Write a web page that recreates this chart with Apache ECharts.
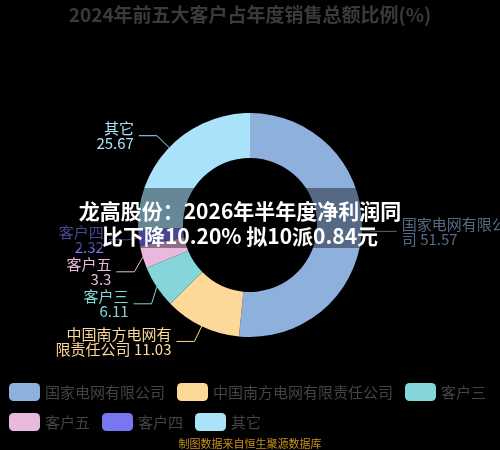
<!DOCTYPE html>
<html>
<head>
<meta charset="utf-8">
<script src="https://cdn.jsdelivr.net/npm/echarts@6/dist/echarts.min.js"></script>
<style>
  html, body { margin: 0; padding: 0; background: #000; }
  #main { width: 500px; height: 450px; }
</style>
</head>
<body>
<div id="main"></div>
<script>
// 数据
const titleText = '2024年前五大客户占年度销售总额比例(%)';
const customerNames = ['国家电网有限公司', '中国南方电网有限责任公司', '客户三', '客户五', '客户四', '其它'];
const customerShares = [51.57, 11.03, 6.11, 3.3, 2.32, 25.67];
const newsText = '龙高股份：2026年半年度净利润同\n比下降10.20% 拟10派0.84元';
const sourceText = '制图数据来自恒生聚源数据库';

const sliceColors = ['#8eb0dc', '#fed899', '#84d6d8', '#e8b9dc', '#7777f2', '#aae2fa'];
const fontCJK = '"Noto Sans CJK SC", "Noto Sans", sans-serif';

// 长名称按7个字换行
function labelText(p) {
    if (p.name.length > 4) {
        return p.name.slice(0, 7) + '\n' + p.name.slice(7) + ' ' + p.value;
    }
    return p.name + '\n' + p.value;
}

let myChart = echarts.init(document.getElementById('main'));
let option = {
    backgroundColor: '#000',
    color: sliceColors,
    animation: false,
    title: {
        text: titleText,
        left: 'center',
        top: 0,
        textStyle: {
            color: '#3a3a3a',
            fontSize: 19,
            fontWeight: 'bold',
            fontFamily: fontCJK
        }
    },
    legend: {
        data: customerNames,
        left: 9,
        top: 383,
        padding: 0,
        itemWidth: 31,
        itemHeight: 18,
        itemGap: 12,
        icon: 'roundRect',
        textStyle: {
            color: '#444',
            fontSize: 15,
            fontFamily: fontCJK
        }
    },
    series: [{
        type: 'pie',
        center: [250, 225],
        radius: [67, 112],
        label: {
            formatter: labelText,
            fontSize: 15,
            lineHeight: 15,
            fontFamily: fontCJK,
            width: 120,
            overflow: 'none'
        },
        labelLine: {
            length: 17,
            length2: 18
        },
        data: customerNames.map(function (name, i) {
            return {
                name: name,
                value: customerShares[i],
                label: { color: sliceColors[i] },
                labelLine: { lineStyle: { color: sliceColors[i] } }
            };
        })
    }],
    graphic: [
        {
            type: 'rect',
            left: 0,
            top: 188,
            shape: { width: 500, height: 60 },
            style: { fill: 'rgba(0,0,0,0.4)' },
            z: 100
        },
        {
            type: 'text',
            x: 240,
            y: 199,
            z: 101,
            style: {
                text: newsText,
                fill: '#fff',
                font: 'bold 21px ' + fontCJK,
                lineHeight: 25,
                textAlign: 'center'
            }
        },
        {
            type: 'text',
            left: 'center',
            top: 438,
            style: {
                text: sourceText,
                fill: '#c8901a',
                font: '11px ' + fontCJK
            }
        }
    ]
};
myChart.setOption(option);
</script>
</body>
</html>
